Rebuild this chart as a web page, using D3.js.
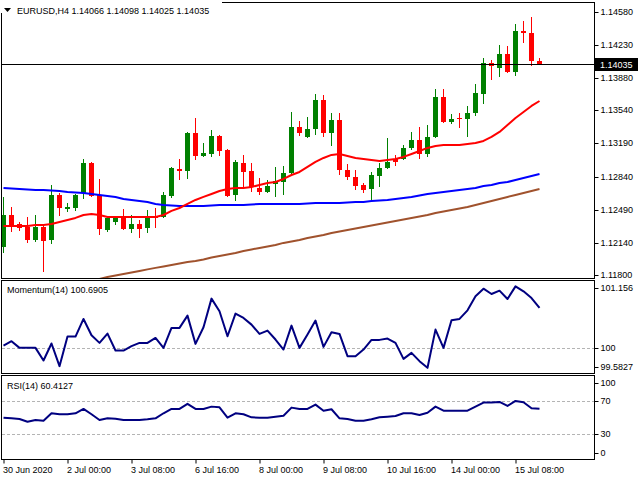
<!DOCTYPE html>
<html><head><meta charset="utf-8">
<script src="https://cdn.jsdelivr.net/npm/d3@7"></script>
<style>
body{margin:0;background:#fff}
svg{display:block}
text{font-family:"Liberation Sans",Arial,sans-serif;font-size:9px;fill:#000}
</style>
</head><body><svg id="c" width="640" height="480"></svg>
<script>
// ---------- DATA ----------
const opens=[1.12096,1.12434,1.12339,1.12308,1.12170,1.12308,1.12170,1.12646,1.12498,1.12508,
1.12667,1.12984,1.12646,1.12276,1.12360,1.12403,1.12286,1.12339,1.12297,1.12424,
1.12413,1.12635,1.12921,1.12900,1.13301,1.13058,1.13079,1.13269,1.13121,1.12646,
1.12984,1.12900,1.12720,1.12678,1.12762,1.12783,1.12878,1.13365,1.13259,1.13343,
1.13650,1.13301,1.13439,1.12910,1.12836,1.12752,1.12709,1.12847,1.12931,1.13026,
1.13026,1.13143,1.13227,1.13079,1.13259,1.13682,1.13417,1.13460,1.13449,1.13513,
1.13713,1.14041,1.13988,1.14136,1.13946,1.14379,1.14358,1.14066];
const highs=[1.12625,1.12519,1.12360,1.12413,1.12434,1.12329,1.12752,1.12667,1.12561,1.12656,
1.13026,1.12995,1.12815,1.12413,1.12413,1.12498,1.12434,1.12382,1.12487,1.12508,
1.12678,1.12942,1.13026,1.13311,1.13460,1.13195,1.13333,1.13280,1.13130,1.13016,
1.13069,1.12984,1.12826,1.12804,1.12942,1.12952,1.13523,1.13428,1.13470,1.13713,
1.13703,1.13513,1.13513,1.12974,1.12910,1.12773,1.12889,1.12984,1.13248,1.13069,
1.13174,1.13312,1.13365,1.13386,1.13766,1.13766,1.13502,1.13513,1.13587,1.13819,
1.14094,1.14073,1.14231,1.14221,1.14453,1.14485,1.14527,1.14098];
const lows=[1.12033,1.12255,1.12265,1.12138,1.12149,1.11832,1.12128,1.12424,1.12466,1.12477,
1.12604,1.12625,1.12223,1.12255,1.12329,1.12276,1.12244,1.12191,1.12244,1.12297,
1.12403,1.12614,1.12804,1.12815,1.13016,1.13048,1.13048,1.13058,1.12625,1.12582,
1.12730,1.12678,1.12646,1.12670,1.12625,1.12646,1.12870,1.13269,1.13250,1.13280,
1.13259,1.13164,1.12857,1.12804,1.12699,1.12667,1.12593,1.12730,1.12925,1.12952,
1.13016,1.13121,1.13026,1.13048,1.13250,1.13407,1.13396,1.13354,1.13259,1.13481,
1.13608,1.13861,1.13893,1.13935,1.13904,1.14252,1.14009,1.14025];
const closes=[1.12434,1.12308,1.12297,1.12170,1.12308,1.12160,1.12646,1.12508,1.12519,1.12646,
1.12984,1.12635,1.12286,1.12403,1.12403,1.12286,1.12339,1.12286,1.12413,1.12403,
1.12646,1.12931,1.12900,1.13301,1.13058,1.13090,1.13269,1.13111,1.12635,1.12995,
1.12889,1.12730,1.12678,1.12741,1.12794,1.12878,1.13365,1.13301,1.13343,1.13650,
1.13301,1.13439,1.12910,1.12836,1.12741,1.12699,1.12857,1.12931,1.12995,1.12995,
1.13143,1.13227,1.13079,1.13259,1.13682,1.13417,1.13449,1.13449,1.13513,1.13724,
1.14041,1.14009,1.14136,1.13946,1.14379,1.14358,1.14062,1.14035];
const maRed=[1.12318,1.12318,1.12318,1.12318,1.12329,1.12329,1.12339,1.12360,1.12382,1.12403,
1.12434,1.12445,1.12434,1.12413,1.12413,1.12413,1.12413,1.12413,1.12413,1.12413,
1.12434,1.12477,1.12508,1.12551,1.12593,1.12625,1.12656,1.12688,1.12709,1.12720,
1.12720,1.12730,1.12752,1.12773,1.12783,1.12815,1.12857,1.12889,1.12942,1.12995,
1.13037,1.13069,1.13079,1.13058,1.13037,1.13026,1.13016,1.13005,1.13016,1.13026,
1.13048,1.13079,1.13111,1.13143,1.13164,1.13174,1.13174,1.13174,1.13185,1.13195,
1.13217,1.13259,1.13312,1.13386,1.13460,1.13523,1.13587,1.13639];
const maBlue=[1.12720,1.12715,1.12709,1.12704,1.12699,1.12699,1.12694,1.12688,1.12678,1.12672,
1.12667,1.12656,1.12646,1.12635,1.12625,1.12604,1.12593,1.12582,1.12572,1.12551,
1.12540,1.12535,1.12530,1.12530,1.12530,1.12530,1.12535,1.12540,1.12540,1.12540,
1.12540,1.12545,1.12551,1.12551,1.12551,1.12551,1.12551,1.12551,1.12556,1.12561,
1.12561,1.12561,1.12561,1.12567,1.12572,1.12572,1.12582,1.12588,1.12593,1.12604,
1.12614,1.12625,1.12641,1.12656,1.12667,1.12678,1.12688,1.12699,1.12709,1.12720,
1.12741,1.12752,1.12773,1.12783,1.12804,1.12826,1.12847,1.12868];
const maBrown=[null,null,null,null,null,null,null,null,null,null,
null,null,1.11758,1.11779,1.11795,1.11811,1.11827,1.11843,1.11859,1.11875,
1.11890,1.11906,1.11922,1.11938,1.11948,1.11964,1.11985,1.12001,1.12017,1.12033,
1.12054,1.12070,1.12086,1.12102,1.12117,1.12139,1.12154,1.12170,1.12191,1.12207,
1.12223,1.12244,1.12260,1.12276,1.12292,1.12308,1.12323,1.12339,1.12355,1.12371,
1.12387,1.12403,1.12419,1.12434,1.12456,1.12471,1.12487,1.12503,1.12519,1.12540,
1.12561,1.12582,1.12604,1.12625,1.12646,1.12667,1.12688,1.12709];
const momentum=[100.040,100.115,100.000,100.000,100.000,99.782,100.075,99.684,100.195,100.195,
100.500,100.218,100.086,100.247,99.954,99.954,100.029,100.086,100.086,100.172,
100.000,100.345,100.345,100.557,100.069,100.356,100.851,100.632,100.201,100.592,
100.517,100.402,100.241,100.299,100.144,99.971,100.385,100.000,100.230,100.471,
100.017,100.270,100.241,99.856,99.856,99.971,100.138,100.138,100.161,100.086,
99.810,99.914,99.770,99.655,100.316,100.000,100.477,100.500,100.649,100.891,
101.023,100.931,100.989,100.845,101.063,100.977,100.862,100.6905];
const rsi=[49.8,49.0,48.2,44.9,47.0,46.1,55.1,53.9,53.9,55.1,
60.3,53.9,47.0,49.0,48.6,47.0,47.0,47.0,47.8,49.0,
55.1,60.3,60.3,66.4,60.3,60.3,63.1,62.3,49.8,55.1,
53.9,50.2,49.8,49.8,51.0,52.2,61.9,60.3,60.3,65.5,
58.2,59.9,49.0,48.2,46.1,46.1,47.8,50.2,51.0,51.8,
55.1,55.1,53.0,55.8,63.1,58.2,58.2,58.2,58.2,63.1,
68.0,68.0,68.8,63.9,70.0,68.4,61.1,60.4127];
const priceTicks=[1.14580,1.14230,1.13880,1.13540,1.13190,1.12840,1.12490,1.12140,1.11800];
const momTicks=[101.156,100,99.5827];
const momLevels=[100];
const rsiTicks=[100,70,30,0];
const rsiLevels=[70,30];
const timeLabels=["30 Jun 2020","2 Jul 00:00","3 Jul 08:00","6 Jul 16:00","8 Jul 00:00","9 Jul 08:00","10 Jul 16:00","14 Jul 00:00","15 Jul 08:00"];
const symbol="EURUSD,H4";
const lastBid=1.14035;
const momLabel="Momentum(14) 100.6905";
const rsiLabel="RSI(14) 60.4127";

// ---------- LAYOUT ----------
const L=2, R=594;
const P={top:3,bottom:278}, M={top:281,bottom:373}, S={top:376,bottom:459};
const n=closes.length;
const svg=d3.select("#c");
const x=d3.scaleLinear().domain([0,n-1]).range([3.5,3.5+8*(n-1)]);
const yP=d3.scaleLinear().domain([1.11768,1.14675]).range([P.bottom,P.top]);
const yM=d3.scaleLinear().domain([99.5827,101.156]).range([M.bottom-1,M.top]);
const yR=d3.scaleLinear().domain([0,100]).range([S.bottom,S.top]);

const defs=svg.append("defs");
[["cp",P],["cm",M],["cr",S]].forEach(([id,b])=>{
  defs.append("clipPath").attr("id",id).append("rect")
    .attr("x",L).attr("y",b.top).attr("width",R-L).attr("height",b.bottom-b.top);
});

// ---------- MAIN PANEL ----------
const gP=svg.append("g").attr("clip-path","url(#cp)");
const idx=d3.range(n);
// candles
const cg=gP.append("g");
idx.forEach(i=>{
  const up=closes[i]>=opens[i];
  const col=up?"#008000":"#ff0000";
  const cx=x(i);
  cg.append("line").attr("x1",cx).attr("x2",cx)
    .attr("y1",Math.round(yP(highs[i]))).attr("y2",Math.round(yP(lows[i])))
    .attr("stroke",col).attr("stroke-width",1);
  const yt=Math.round(yP(Math.max(opens[i],closes[i])));
  const yb=Math.round(yP(Math.min(opens[i],closes[i])));
  cg.append("rect").attr("x",cx-2.5).attr("width",5)
    .attr("y",yt).attr("height",Math.max(1,yb-yt)).attr("fill",col);
});
// moving averages
const lineP=d3.line().defined(d=>d!=null).x((d,i)=>x(i)).y(d=>yP(d));
[[maBrown,"#a0522d"],[maBlue,"#0000ff"],[maRed,"#ff0000"]].forEach(([arr,col])=>{
  gP.append("path").datum(arr).attr("d",lineP).attr("fill","none")
    .attr("stroke",col).attr("stroke-width",2).attr("stroke-linejoin","round");
});
// bid line
gP.append("line").attr("x1",L).attr("x2",R)
  .attr("y1",Math.round(yP(lastBid))+0.5).attr("y2",Math.round(yP(lastBid))+0.5)
  .attr("stroke","#000").attr("stroke-width",1);

// ---------- MOMENTUM ----------
const gM=svg.append("g").attr("clip-path","url(#cm)");
momLevels.forEach(v=>{
  gM.append("line").attr("x1",L).attr("x2",R)
    .attr("y1",Math.round(yM(v))+0.5).attr("y2",Math.round(yM(v))+0.5)
    .attr("stroke","#b4b4b4").attr("stroke-dasharray","3,2");
});
gM.append("path").datum(momentum)
  .attr("d",d3.line().x((d,i)=>x(i)).y(d=>yM(d)))
  .attr("fill","none").attr("stroke","#000080").attr("stroke-width",2).attr("stroke-linejoin","round");

// ---------- RSI ----------
const gR=svg.append("g").attr("clip-path","url(#cr)");
rsiLevels.forEach(v=>{
  gR.append("line").attr("x1",L).attr("x2",R)
    .attr("y1",Math.round(yR(v))+0.5).attr("y2",Math.round(yR(v))+0.5)
    .attr("stroke","#b4b4b4").attr("stroke-dasharray","3,2");
});
gR.append("path").datum(rsi)
  .attr("d",d3.line().x((d,i)=>x(i)).y(d=>yR(d)))
  .attr("fill","none").attr("stroke","#000080").attr("stroke-width",2).attr("stroke-linejoin","round");

// ---------- FRAMES ----------
[P,M,S].forEach(b=>{
  svg.append("rect").attr("x",L-0.5).attr("y",b.top-0.5)
    .attr("width",R-L+1).attr("height",b.bottom-b.top+1)
    .attr("fill","none").attr("stroke","#000").attr("stroke-width",1);
});

// ---------- RIGHT AXES ----------
function rightAxis(scale,ticks,fmt,b){
  const g=svg.append("g").attr("transform",`translate(${R+0.5},0)`)
    .call(d3.axisRight(scale).tickValues(ticks).tickSize(4).tickPadding(2).tickFormat(fmt));
  g.select(".domain").remove();
  g.selectAll(".tick").attr("transform",d=>{
    const yy=Math.min(Math.max(scale(d),b.top+7),b.bottom-6);
    return `translate(0,${Math.round(yy)+0.5})`;
  });
  g.selectAll("text").attr("font-size",9).attr("font-family",'"Liberation Sans",Arial,sans-serif').attr("fill","#000");
  g.selectAll("line").attr("stroke","#000");
  return g;
}
rightAxis(yP,priceTicks,d3.format(".5f"),{top:-100,bottom:1000});
rightAxis(yM,momTicks,d=>String(d),M);
rightAxis(yR,rsiTicks,d=>String(d),S);

// bid price tag
const by=Math.round(yP(lastBid));
svg.append("rect").attr("x",R+1).attr("y",by-6).attr("width",43).attr("height",13).attr("fill","#000");
svg.append("text").attr("x",R+6).attr("y",by+4).text(d3.format(".5f")(lastBid)).style("fill","#fff");

// ---------- BOTTOM AXIS ----------
const gx=svg.append("g").attr("transform",`translate(0,${S.bottom+0.5})`)
  .call(d3.axisBottom(x).tickValues(d3.range(0,n,8)).tickSize(4).tickPadding(3)
    .tickFormat((d,i)=>timeLabels[i]));
gx.select(".domain").remove();
gx.selectAll("text").attr("text-anchor","start").attr("x",-1)
  .attr("font-size",9).attr("font-family",'"Liberation Sans",Arial,sans-serif').attr("fill","#000");
gx.selectAll("line").attr("stroke","#000");

// ---------- TITLES ----------
svg.append("rect").attr("x",0).attr("y",0).attr("width",222).attr("height",13).attr("fill","#fff");
svg.append("path").attr("d","M4,8 L11,8 L7.5,12 Z").attr("fill","#000");
svg.append("text").attr("x",17).attr("y",14)
  .text(symbol+"  "+[opens[n-1],highs[n-1],lows[n-1],closes[n-1]].map(d3.format(".5f")).join(" "));
svg.append("text").attr("x",7).attr("y",293).text(momLabel);
svg.append("text").attr("x",7).attr("y",388.5).text(rsiLabel);
</script>
</body></html>
